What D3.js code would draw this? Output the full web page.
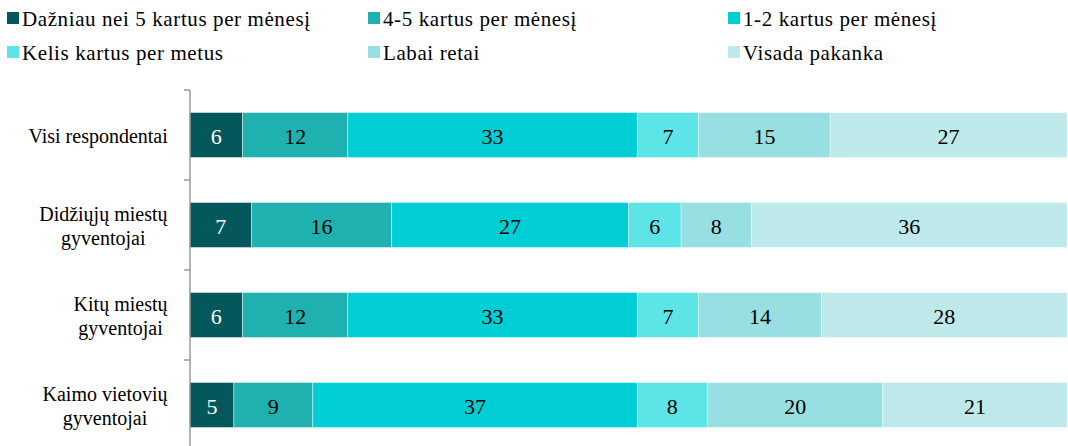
<!DOCTYPE html>
<html><head><meta charset="utf-8">
<script src="https://cdn.jsdelivr.net/npm/d3@7"></script>
<style>body{margin:0;background:#fff}svg{display:block}</style>
</head><body>
<script>
const categories = [["Visi respondentai"],["Didžiųjų miestų","gyventojai"],["Kitų miestų","gyventojai"],["Kaimo vietovių","gyventojai"]];
const seriesNames = ["Dažniau nei 5 kartus per mėnesį","4-5 kartus per mėnesį","1-2 kartus per mėnesį","Kelis kartus per metus","Labai retai","Visada pakanka"];
const s1 = [6,7,6,5];
const s2 = [12,16,12,9];
const s3 = [33,27,33,37];
const s4 = [7,6,7,8];
const s5 = [15,8,14,20];
const s6 = [27,36,28,21];
const seriesValues = [s1,s2,s3,s4,s5,s6];
const colors = ["#04585C","#1FB1AF","#00CED5","#5CE4E6","#97DFE1","#BEE9EA"];
const textColors = ["#fff","#000","#000","#000","#000","#000"];

const W=1068,H=446;
const svg=d3.select("body").append("svg").attr("width",W).attr("height",H);
const font="Liberation Serif, Times New Roman, serif";

const x=d3.scaleLinear().domain([0,100]).range([190,1067]);
const yBand=d3.scaleBand().domain(d3.range(categories.length)).range([90,450]).paddingInner(0.5).paddingOuter(0.25);
const yAxisScale=d3.scaleBand().domain(d3.range(categories.length)).range([90,450]);

// bars
categories.forEach((c,i)=>{
  let cum=0;
  seriesValues.forEach((sv,j)=>{
    const v=sv[i];
    const x0=x(cum), x1=x(cum+v);
    svg.append("rect").attr("x",x0).attr("y",yBand(i)).attr("width",x1-x0).attr("height",yBand.bandwidth())
      .attr("fill",colors[j]).attr("stroke","#fff").attr("stroke-width",0.7).attr("stroke-opacity",0.6);
    svg.append("text").attr("x",(x0+x1)/2).attr("y",yBand(i)+yBand.bandwidth()/2+1)
      .attr("text-anchor","middle").attr("dominant-baseline","central")
      .attr("font-family",font).attr("font-size",22).attr("fill",textColors[j]).text(v);
    cum+=v;
  });
});

// axis
const ax=svg.append("g").attr("stroke","#8c8c8c").attr("stroke-width",1.3);
ax.append("line").attr("x1",190).attr("x2",190).attr("y1",90).attr("y2",450);
[0,1,2,3,4].forEach(k=>{
  const yy=k<4?yAxisScale(k):yAxisScale(3)+yAxisScale.bandwidth();
  ax.append("line").attr("x1",184).attr("x2",190).attr("y1",yy).attr("y2",yy);
});

// category labels
categories.forEach((lines,i)=>{
  const cy=yAxisScale(i)+yAxisScale.bandwidth()/2;
  const t=svg.append("text").attr("font-family",font).attr("font-size",20).attr("fill","#000").attr("text-anchor","middle");
  const n=lines.length;
  lines.forEach((l,k)=>{
    t.append("tspan").attr("x",0).attr("y",cy+(k-(n-1)/2)*24+1).attr("dominant-baseline","central").text(l);
  });
  const bb=t.node().getBBox();
  t.attr("transform",`translate(${168-bb.width/2},0)`);
});

// legend
const legX=[7,368,728], legY=[18,52];
seriesNames.forEach((name,j)=>{
  const col=j%3,row=Math.floor(j/3);
  svg.append("rect").attr("x",legX[col]).attr("y",legY[row]-6).attr("width",12).attr("height",12).attr("fill",colors[j]);
  svg.append("text").attr("x",legX[col]+15).attr("y",legY[row]+1).attr("dominant-baseline","central")
    .attr("font-family",font).attr("font-size",21).attr("letter-spacing","0.6px").attr("fill","#000").text(name);
});
</script>
</body></html>
